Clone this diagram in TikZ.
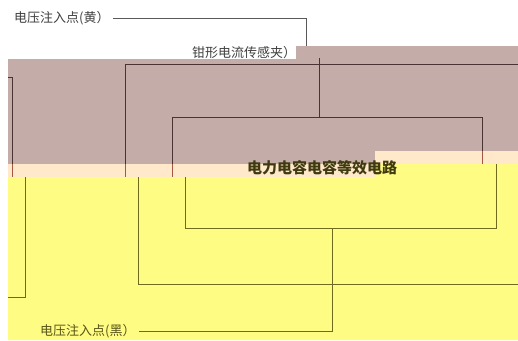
\documentclass[tikz,border=0pt]{standalone}
\usepackage{fontspec}
\newfontfamily\cjk{Noto Sans CJK SC}
\definecolor{mauve}{HTML}{C4ADA8}
\definecolor{peach}{HTML}{FFE9CA}
\definecolor{pale}{HTML}{FFFC84}
\definecolor{wirebr}{HTML}{4A3332}
\definecolor{wirerd}{HTML}{A5573F}
\definecolor{wireol}{HTML}{6E6A1E}
\definecolor{txtol}{HTML}{3F3A10}
\begin{document}
\begin{tikzpicture}[x=1pt,y=-1pt,font=\cjk,line join=miter,
	brw/.style={wirebr,line width=0.8pt},
	rdw/.style={wirerd,line width=0.8pt},
	olw/.style={wireol,line width=0.9pt},
	lbl/.style={anchor=west,inner sep=3pt,font=\cjk\fontsize{13}{15}\selectfont}]
		\useasboundingbox (0,0) rectangle (518,340);
		\fill[white] (0,0) rectangle (518,340);
		\fill[mauve] (8,59)--(296,59)--(296,46)--(518,46)--(518,177)--(8,177)--cycle;
		\fill[peach] (8,164)--(375,164)--(375,151)--(518,151)--(518,177)--(8,177)--cycle;
		\fill[pale] (8,177)--(375,177)--(375,164)--(518,164)--(518,340)--(8,340)--cycle;
		% labels
		\node[lbl,text=black!75] (yel) at (11,18) {电压注入点(黄）};
		\node[lbl,text=black!75] (clamp) at (189,53) {钳形电流传感夹）};
		\node[lbl,text=wireol!80!black] (blk) at (37,331) {电压注入点(黑）};
		\node[font=\cjk\bfseries\fontsize{15}{17}\selectfont,text=txtol] (eqv) at (322,168) {电力电容电容等效电路};
		% upper layer
		\coordinate (clampTop) at (306,46);
		\coordinate (clampBot) at (319,58);
		\draw[black!65,line width=0.8pt] (yel.east) -| (clampTop);
		\draw[brw] (8,77)--(12,77)--(12,164);
		\draw[rdw] (12,164)--(12,177);
		\draw[brw] (518,64)--(125,64)--(125,164);
		\draw[rdw] (125,164)--(125,177);
		\draw[brw] (172,164)--(172,117)--(482,117)--(482,151);
		\draw[rdw] (172,164)--(172,177) (482,151)--(482,164);
		\draw[brw] (clampBot)--(clampBot|-0,117);
		% lower layer
		\draw[olw] (25,177)--(25,297)--(8,297);
		\draw[olw] (138,177)--(138,284)--(518,284);
		\draw[olw] (185,177)--(185,228)--(496,228)--(496,164);
		\draw[olw] (332,228)--(332,331)--(blk.east);
\end{tikzpicture}
\end{document}
